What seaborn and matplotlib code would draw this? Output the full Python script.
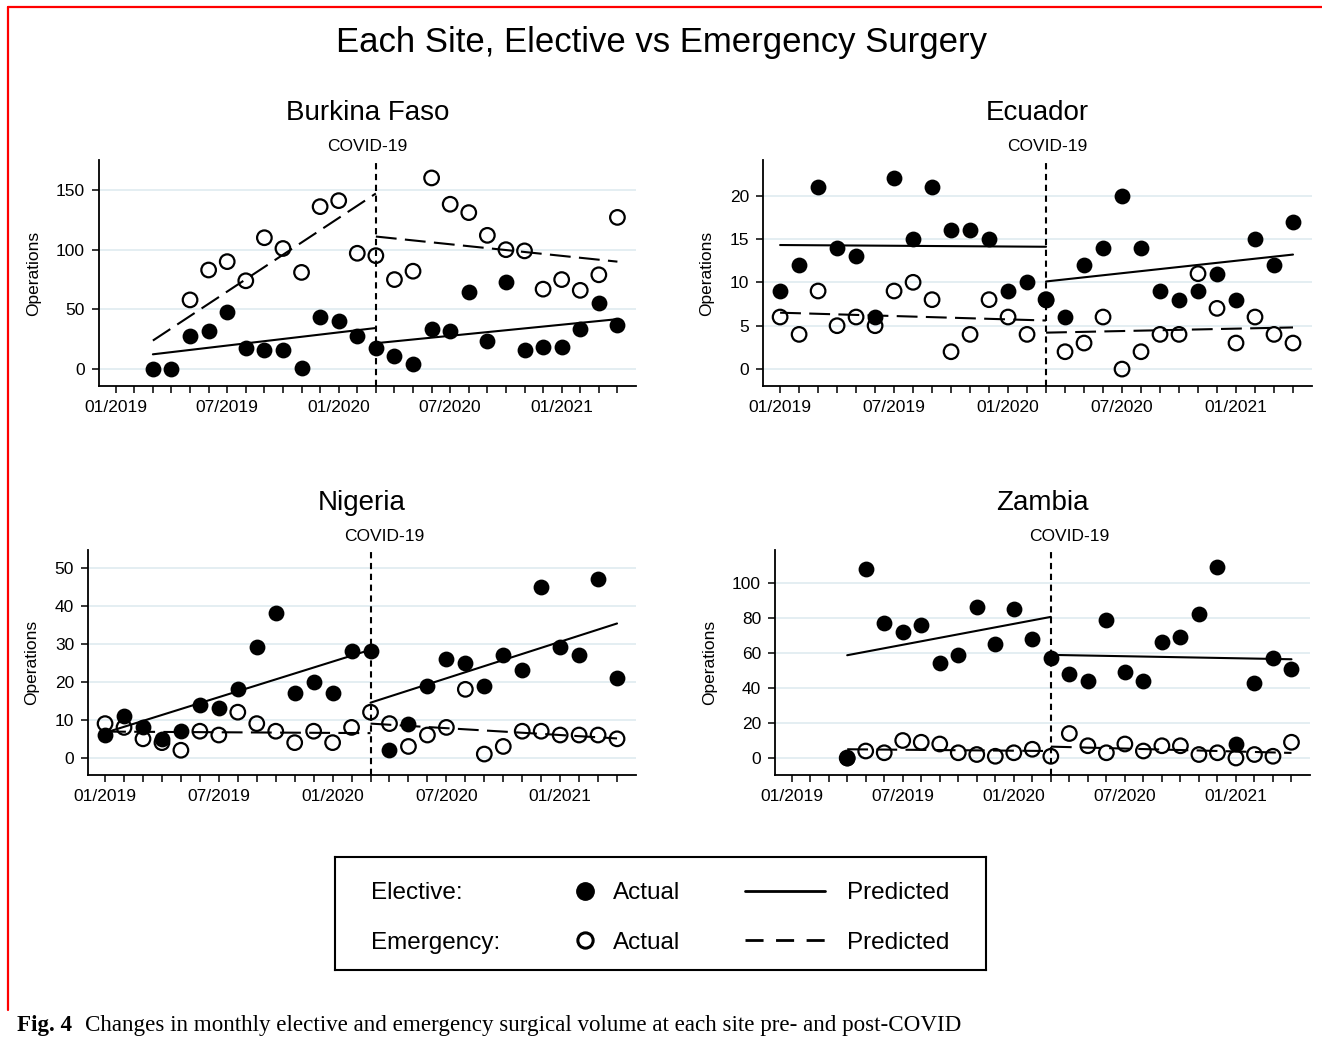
import numpy as np
import pandas as pd
import seaborn as sns
import matplotlib.pyplot as plt
from matplotlib.lines import Line2D

nan = np.nan

# monthly series, 01/2019 .. 04/2021 ; COVID onset = 03/2020
months = pd.date_range("2019-01-01", "2021-04-01", freq="MS")
month_idx = np.arange(len(months))
covid_month = 14
label_months = [0, 6, 12, 18, 24]

sites = ["Burkina Faso", "Ecuador", "Nigeria", "Zambia"]

bf_elective = [nan, nan, 0, 0, 28, 32, 48, 18, 16, 16, 1, 44, 40, 28,
               18, 11, 4, 34, 32, 65, 24, 73, 16, 19, 19, 34, 55, 37]
bf_emergency = [nan, nan, nan, nan, 58, 83, 90, 74, 110, 101, 81, 136, 141, 97,
                95, 75, 82, 160, 138, 131, 112, 100, 99, 67, 75, 66, 79, 127]
ec_elective = [9, 12, 21, 14, 13, 6, 22, 15, 21, 16, 16, 15, 9, 10,
               8, 6, 12, 14, 20, 14, 9, 8, 9, 11, 8, 15, 12, 17]
ec_emergency = [6, 4, 9, 5, 6, 5, 9, 10, 8, 2, 4, 8, 6, 4,
                8, 2, 3, 6, 0, 2, 4, 4, 11, 7, 3, 6, 4, 3]
ng_elective = [6, 11, 8, 5, 7, 14, 13, 18, 29, 38, 17, 20, 17, 28,
               28, 2, 9, 19, 26, 25, 19, 27, 23, 45, 29, 27, 47, 21]
ng_emergency = [9, 8, 5, 4, 2, 7, 6, 12, 9, 7, 4, 7, 4, 8,
                12, 9, 3, 6, 8, 18, 1, 3, 7, 7, 6, 6, 6, 5]
zm_elective = [nan, nan, nan, 0, 108, 77, 72, 76, 54, 59, 86, 65, 85, 68,
               57, 48, 44, 79, 49, 44, 66, 69, 82, 109, 8, 43, 57, 51]
zm_emergency = [nan, nan, nan, 0, 4, 3, 10, 9, 8, 3, 2, 1, 3, 5,
                1, 14, 7, 3, 8, 4, 7, 7, 2, 3, 0, 2, 1, 9]

# predicted segments: [pre start, pre end (COVID), post start (COVID), post end]
bf_elec_pred = [12.5, 34.5, 21.8, 41.9]
bf_emer_pred = [24, 147, 111, 90]
ec_elec_pred = [14.3, 14.1, 10.1, 13.2]
ec_emer_pred = [6.5, 5.6, 4.2, 4.8]
ng_elec_pred = [6.6, 28.4, 14.5, 35.3]
ng_emer_pred = [6.9, 6.5, 9.0, 5.1]
zm_elec_pred = [58.7, 80.6, 58.9, 56.4]
zm_emer_pred = [5.0, 4.0, 6.5, 2.9]
first_month = [2, 0, 0, 3]

sns.set_style("ticks")
plt.rcParams["font.family"] = ["Liberation Sans", "DejaVu Sans"]
plt.rcParams.update({"text.color": "black", "axes.labelcolor": "black",
                     "xtick.color": "black", "ytick.color": "black"})

fig = plt.figure(figsize=(13.22, 10.41), dpi=100)
W, H = 1322, 1041


def rect(x0, y0, x1, y1):
    return [x0 / W, 1 - y1 / H, (x1 - x0) / W, (y1 - y0) / H]


DASH = (0, (10, 4))

# axes box, data, y ticks, y range, shift of the COVID-19 label (px)
panels = [
    (rect(99, 160, 636, 386), bf_elective, bf_emergency, bf_elec_pred, bf_emer_pred,
     [0, 50, 100, 150], (-14, 175), -9),
    (rect(763, 160, 1312, 386), ec_elective, ec_emergency, ec_elec_pred, ec_emer_pred,
     [0, 5, 10, 15, 20], (-1.95, 24.1), 1),
    (rect(88, 550, 636, 775), ng_elective, ng_emergency, ng_elec_pred, ng_emer_pred,
     [0, 10, 20, 30, 40, 50], (-4.5, 54.6), 14),
    (rect(775, 550, 1310, 775), zm_elective, zm_emergency, zm_elec_pred, zm_emer_pred,
     [0, 20, 40, 60, 80, 100], (-9.7, 118.8), 18),
]

for name, start, (box, elec, emer, elec_pred, emer_pred, yticks, ylim, lab_dx) in zip(
        sites, first_month, panels):
    ax = fig.add_axes(box)
    df = pd.DataFrame({"month": month_idx, "elective": elec, "emergency": emer})

    ax.yaxis.grid(True, color="#e2edf1", lw=1.3)
    ax.set_axisbelow(True)

    for pred, ls in ((elec_pred, "-"), (emer_pred, DASH)):
        sns.lineplot(x=[start, covid_month], y=pred[:2], ax=ax, color="black",
                     linewidth=1.5, linestyle=ls)
        sns.lineplot(x=[covid_month, month_idx[-1]], y=pred[2:], ax=ax, color="black",
                     linewidth=1.5, linestyle=ls)

    sns.scatterplot(data=df, x="month", y="elective", ax=ax, color="black",
                    s=130, linewidth=0, zorder=3)
    sns.scatterplot(data=df, x="month", y="emergency", ax=ax, facecolor="none",
                    edgecolor="black", linewidth=1.6, s=110, zorder=4)

    ax.axvline(covid_month, color="black", lw=1.5, ls=(0, (3, 2.2)))
    ax.annotate("COVID-19", xy=(covid_month, 1), xycoords=("data", "axes fraction"),
                xytext=(lab_dx * 0.72, 4), textcoords="offset points", ha="center",
                va="bottom", fontsize=12.5)

    ax.set_xlim(-0.9, 28.0)
    ax.set_ylim(*ylim)
    ax.set_xticks(month_idx, minor=True)
    ax.set_xticks(label_months)
    ax.set_xticklabels([months[m].strftime("%m/%Y") for m in label_months])
    ax.set_yticks(yticks)
    ax.tick_params(which="both", direction="out", length=5, width=1.1, color="black",
                   labelsize=12.5, pad=5)
    ax.set_xlabel("")
    ax.set_ylabel("Operations", fontsize=12.5, labelpad=11)
    ax.set_title(name, fontsize=20, pad=29)

    sns.despine(ax=ax)
    for side in ("left", "bottom"):
        ax.spines[side].set_linewidth(1.3)
        ax.spines[side].set_color("black")

fig.text(0.5, 1 - 52 / H, "Each Site, Elective vs Emergency Surgery",
         ha="center", va="baseline", fontsize=25)

# key
lax = fig.add_axes(rect(335, 857, 986, 970))
lax.set_xticks([])
lax.set_yticks([])
for sp in lax.spines.values():
    sp.set_visible(True)
    sp.set_linewidth(1.5)
    sp.set_color("black")

lfs = 17.5
lax.text(0.055, 0.68, "Elective:", transform=lax.transAxes, va="center", fontsize=lfs)
lax.text(0.055, 0.235, "Emergency:", transform=lax.transAxes, va="center", fontsize=lfs)

mark_handles = [
    Line2D([], [], ls="none", marker="o", ms=12.5, mfc="black", mec="black"),
    Line2D([], [], ls="none", marker="o", ms=11, mfc="none", mec="black", mew=2.2),
]
line_handles = [
    Line2D([], [], color="black", lw=2),
    Line2D([], [], color="black", lw=2, ls=(0, (6.5, 4.5))),
]
leg1 = lax.legend(mark_handles, ["Actual", "Actual"], loc="center left",
                  bbox_to_anchor=(0.365, 0.46), frameon=False, fontsize=lfs,
                  handlelength=1.0, handletextpad=0.65, labelspacing=1.14,
                  borderpad=0, borderaxespad=0)
lax.add_artist(leg1)
lax.legend(line_handles, ["Predicted", "Predicted"], loc="center left",
           bbox_to_anchor=(0.630, 0.46), frameon=False, fontsize=lfs,
           handlelength=3.3, handletextpad=0.9, labelspacing=1.14,
           borderpad=0, borderaxespad=0)

# caption
fig.text(17 / W, 1 - 1026 / H, "Fig. 4", family="Liberation Serif", weight="bold",
         fontsize=16.6, va="center")
fig.text(85 / W, 1 - 1026 / H,
         "Changes in monthly elective and emergency surgical volume at each site pre- and post-COVID",
         family="Liberation Serif", fontsize=16.6, va="center")

# page frame
fig.add_artist(Line2D([8 / W, 1], [1 - 7 / H, 1 - 7 / H], transform=fig.transFigure,
                      color="red", lw=1.6))
fig.add_artist(Line2D([8 / W, 8 / W], [1 - 7 / H, 1 - 1010 / H], transform=fig.transFigure,
                      color="red", lw=1.6))

fig.savefig("out.png", dpi=100)
